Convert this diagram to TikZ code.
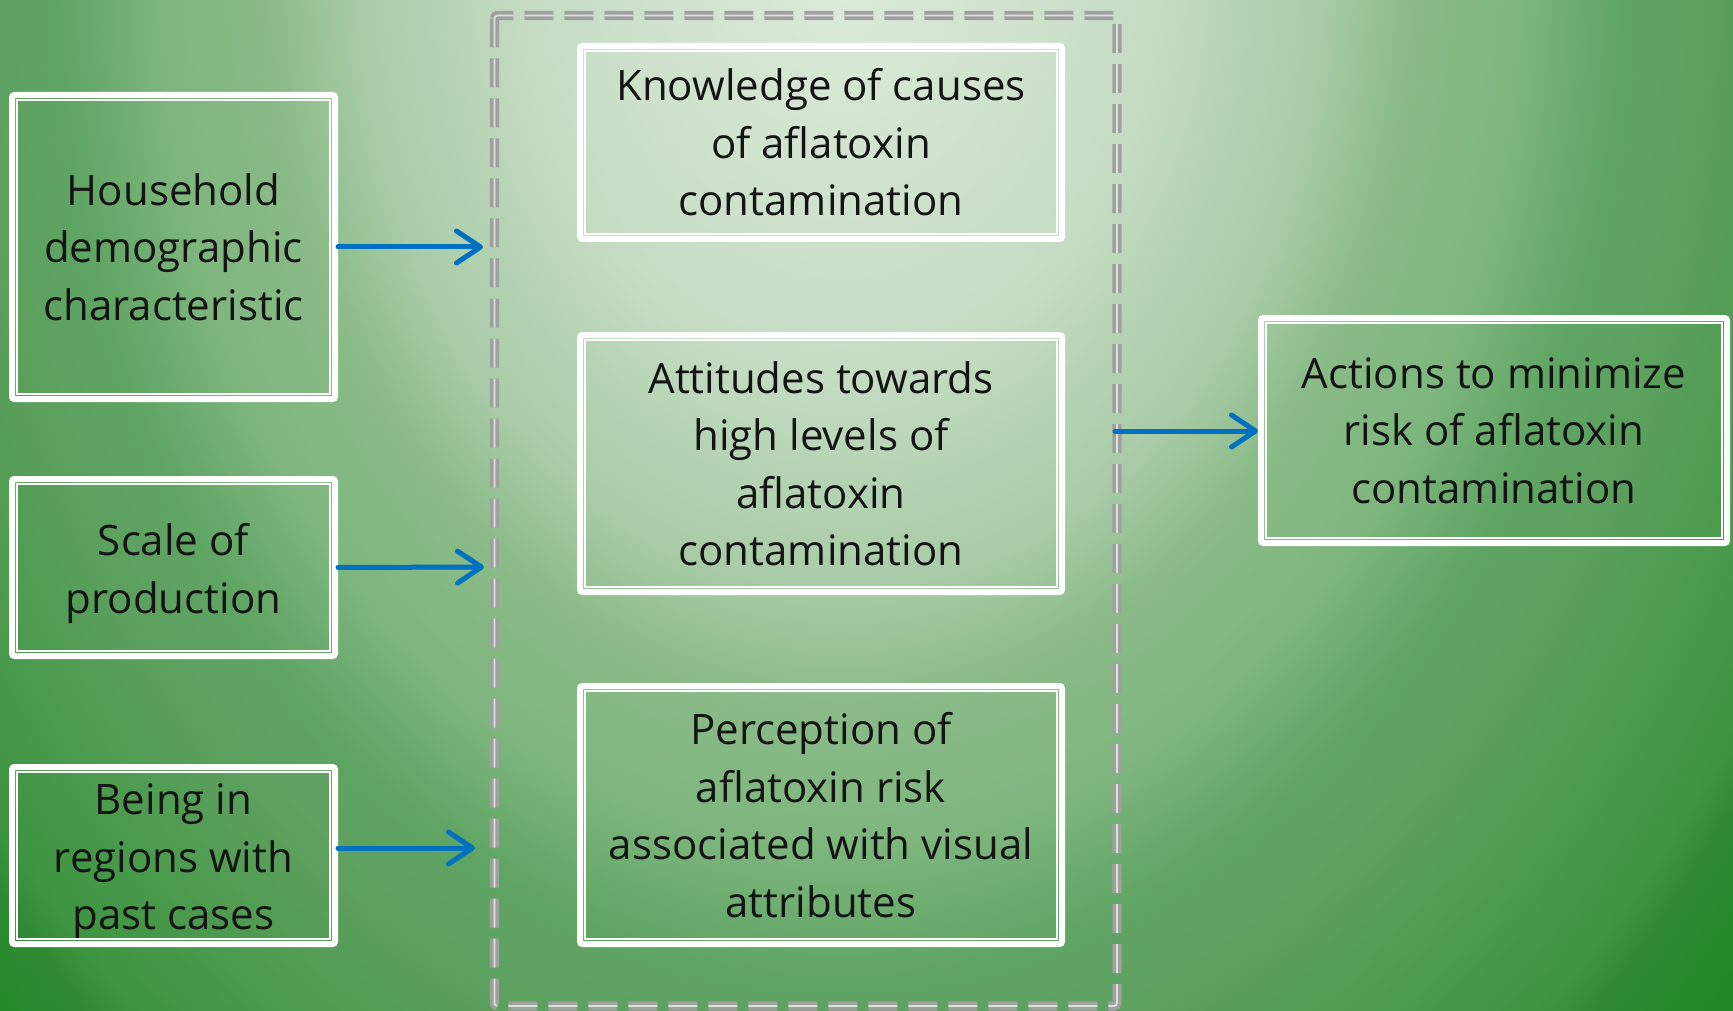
\documentclass[tikz,border=0pt]{standalone}
\usepackage{fontspec}
\setmainfont{Open Sans}
\usetikzlibrary{arrows.meta}
\definecolor{g0}{HTML}{DDEBDB}
\definecolor{g1}{HTML}{C5DCC3}
\definecolor{g2}{HTML}{B6D4B4}
\definecolor{g3}{HTML}{A9CBA7}
\definecolor{g4}{HTML}{8ABB88}
\definecolor{g5}{HTML}{7EB67E}
\definecolor{g6}{HTML}{5EA462}
\definecolor{g7}{HTML}{5DA15F}
\definecolor{g8}{HTML}{3D9440}
\definecolor{g9}{HTML}{2F8A33}
\definecolor{g10}{HTML}{218A26}
\definecolor{arrowblue}{HTML}{0070C0}
\definecolor{framegrey}{HTML}{A0A0A0}
\definecolor{framegap}{HTML}{D8E4D8}
\pgfdeclareradialshading{bgshade}{\pgfpoint{0bp}{0bp}}{color(0bp)=(g0); color(6.47bp)=(g1); color(7.97bp)=(g2); color(9.81bp)=(g3); color(11.59bp)=(g4); color(13.83bp)=(g5); color(15.94bp)=(g6); color(17.5bp)=(g7); color(21.81bp)=(g8); color(22.42bp)=(g9); color(24.06bp)=(g10); color(25bp)=(g10); color(50bp)=(g10)}
\newcommand\boxlines[1]{%
  \draw[inl] ([xshift=5.5pt,yshift=5.5pt]#1.south west) rectangle ([xshift=-5.5pt,yshift=-5.5pt]#1.north east);
  \draw[inl] ([xshift=8pt,yshift=8pt]#1.south west) rectangle ([xshift=-8pt,yshift=-8pt]#1.north east);}
\tikzset{
  box/.style={draw=white, line width=6pt, rounded corners=2.5pt, align=center, inner sep=0pt,
    text=black!92, font=\fontsize{42}{57.5}\selectfont},
  inl/.style={draw=white, line width=1.1pt},
  arr/.style={draw=arrowblue, line width=5pt, line cap=round,
    -{Straight Barb[length=24pt,width=32pt,round]}},
  frm/.style={draw=framegrey, line width=3.8pt, double=framegap, double distance=1.7pt,
    dash pattern=on 29pt off 11pt, rounded corners=3pt}
}
\begin{document}
\begin{tikzpicture}[x=1pt,y=-1pt]
\useasboundingbox (0,0) rectangle (1733,1011);
\begin{scope}
  \clip (0,0) rectangle (1733,1011);
  \shade[shading=bgshade] (840,-40) ellipse [x radius=1231pt, y radius=1600pt];
\end{scope}
% dashed frame
\draw[frm] (494.5,15.5) rectangle (1117,1006);
% left boxes
\node[box, minimum width=323pt, minimum height=304pt] (b1) at (173.5,247) {Household\\demographic\\characteristic};
\node[box, minimum width=323pt, minimum height=177pt] (b2) at (173.5,567.5) {\rule{0pt}{44pt}Scale of\\production};
\node[box, minimum width=323pt, minimum height=177pt] (b3) at (173.5,855.5) {\rule{0pt}{44pt}Being in\\regions with\\past cases};
% middle boxes
\node[box, minimum width=482pt, minimum height=193pt] (m1) at (821,142.5) {Knowledge of causes\\of aflatoxin\\contamination};
\node[box, minimum width=482pt, minimum height=257pt] (m2) at (821,463.5) {Attitudes towards\\high levels of\\aflatoxin\\contamination};
\node[box, minimum width=482pt, minimum height=258pt] (m3) at (821,815) {Perception of\\aflatoxin risk\\associated with visual\\attributes};
% right box
\node[box, minimum width=466pt, minimum height=225pt] (r) at (1494,430.5) {Actions to minimize\\risk of aflatoxin\\contamination};
\boxlines{b1}\boxlines{b2}\boxlines{b3}
\boxlines{m1}\boxlines{m2}\boxlines{m3}\boxlines{r}
% arrow end points on the frame
\coordinate (f1) at (483,247);
\coordinate (f2) at (484,567);
\coordinate (f3) at (475,848);
\coordinate (f4) at (1115,431);
\draw[arr] (b1.east) -- (f1);
\draw[arr] (b2.east) -- (f2);
\draw[arr] (b3.east |- f3) -- (f3);
\draw[arr] (f4) -- (r.west |- f4);
\end{tikzpicture}
\end{document}
